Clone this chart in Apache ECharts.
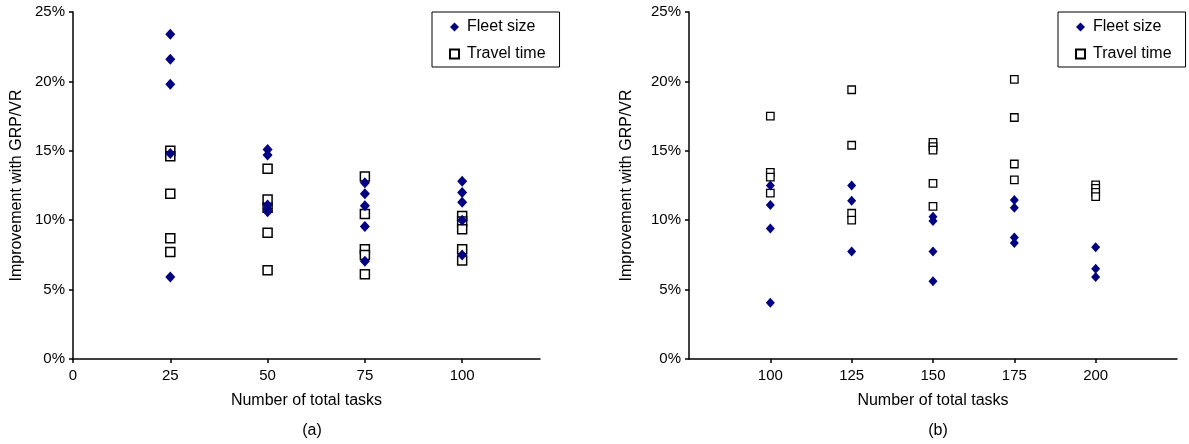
<!DOCTYPE html>
<html>
<head>
<meta charset="utf-8">
<script src="https://cdn.jsdelivr.net/npm/echarts@6/dist/echarts.min.js"></script>
<style>
  html, body { margin: 0; padding: 0; background: #fff; }
  #chart { width: 1189px; height: 444px; }
</style>
</head>
<body>
<div id="chart"></div>
<script>
// panel (a)
var tasksA = [25, 50, 75, 100];
var fleetA = [
    [23.4, 21.6, 19.8, 14.8, 5.9],
    [15.1, 14.7, 11.1, 10.8, 10.6],
    [12.7, 11.9, 11.05, 9.55, 7.05],
    [12.8, 12.0, 11.3, 10.0, 7.5]
];
var travelA = [
    [15.0, 14.6, 11.9, 8.7, 7.7],
    [13.7, 11.5, 10.9, 9.1, 6.4],
    [13.15, 10.45, 7.9, 7.5, 6.1],
    [10.3, 9.9, 9.35, 7.9, 7.1]
];

// panel (b)
var tasksB = [100, 125, 150, 175, 200];
var fleetB = [
    [12.5, 11.1, 9.4, 4.05],
    [12.5, 11.4, 7.75],
    [10.25, 9.95, 7.75, 5.6],
    [11.45, 10.9, 8.75, 8.35],
    [8.05, 6.5, 5.9]
];
var travelB = [
    [17.5, 13.45, 13.1, 11.95],
    [19.4, 15.4, 10.5, 10.0],
    [15.6, 15.3, 15.05, 12.65, 11.0],
    [20.15, 17.4, 14.05, 12.9],
    [12.55, 12.3, 12.0, 11.7]
];

function toPoints(xs, groups) {
    var pts = [];
    xs.forEach(function (x, i) {
        groups[i].forEach(function (v) { pts.push([x, v]); });
    });
    return pts;
}

var font = 'Liberation Sans, Arial, sans-serif';
var navy = '#000080';

function yAxisFor(idx, gap) {
    return {
        type: 'value', gridIndex: idx, min: 0, max: 25, interval: 5,
        name: 'Improvement with GRP/VR', nameLocation: 'middle', nameGap: gap,
        nameTextStyle: { fontFamily: font, fontSize: 16, color: '#000' },
        axisLine: { show: true, lineStyle: { color: '#000', width: 1.5 } },
        axisTick: { show: true, length: 4, lineStyle: { color: '#000', width: 1.5 } },
        axisLabel: { formatter: '{value}%', fontFamily: font, fontSize: 15, color: '#000', margin: 8 },
        splitLine: { show: false }
    };
}

function xAxisFor(idx, min, max) {
    return {
        type: 'value', gridIndex: idx, min: min, max: max, interval: 25,
        name: 'Number of total tasks', nameLocation: 'middle', nameGap: 34,
        nameTextStyle: { fontFamily: font, fontSize: 16, color: '#000' },
        axisLine: { show: true, onZero: false, lineStyle: { color: '#000', width: 1.5 } },
        axisTick: { show: true, length: 4, lineStyle: { color: '#000', width: 1.5 } },
        axisLabel: { fontFamily: font, fontSize: 15, color: '#000', margin: 9,
            showMinLabel: idx === 0, showMaxLabel: false },
        splitLine: { show: false }
    };
}

function legendAt(left) {
    return {
        left: left, top: 12, orient: 'vertical',
        backgroundColor: '#fff', borderColor: '#000', borderWidth: 1, borderRadius: 0,
        padding: [6, 14, 4, 17], itemGap: 9, itemWidth: 9, itemHeight: 9,
        textStyle: { fontFamily: font, fontSize: 16, color: '#000', lineHeight: 18, padding: [0, 0, 0, 3] },
        data: [{ name: 'Fleet size', icon: 'diamond' }, { name: 'Travel time', icon: 'rect' }]
    };
}

var fleetStyle = { color: navy, opacity: 1 };
var travelStyle = { color: '#fff', borderColor: '#000', borderWidth: 1.5, opacity: 1 };

var chart = echarts.init(document.getElementById('chart'));
chart.setOption({
    animation: false,
    backgroundColor: '#fff',
    title: [
        { text: '(a)', left: 307, top: 418, textAlign: 'center',
          textStyle: { fontFamily: font, fontSize: 16, fontWeight: 'normal', color: '#000' } },
        { text: '(b)', left: 933, top: 418, textAlign: 'center',
          textStyle: { fontFamily: font, fontSize: 16, fontWeight: 'normal', color: '#000' } }
    ],
    legend: [legendAt(432), legendAt(1058)],
    grid: [
        { left: 73, top: 12, width: 467, height: 347 },
        { left: 689, top: 12, width: 488, height: 347 }
    ],
    xAxis: [xAxisFor(0, 0, 120), xAxisFor(1, 75, 225)],
    yAxis: [yAxisFor(0, 48), yAxisFor(1, 54)],
    series: [
        { name: 'Fleet size', type: 'scatter', xAxisIndex: 0, yAxisIndex: 0, symbol: 'diamond',
          symbolSize: [10, 11], itemStyle: fleetStyle, data: toPoints(tasksA, fleetA), z: 3 },
        { name: 'Travel time', type: 'scatter', xAxisIndex: 0, yAxisIndex: 0, symbol: 'rect',
          symbolSize: 9, itemStyle: travelStyle, data: toPoints(tasksA, travelA), z: 2 },
        { name: 'Fleet size', type: 'scatter', xAxisIndex: 1, yAxisIndex: 1, symbol: 'diamond',
          symbolSize: [9, 10], itemStyle: fleetStyle, data: toPoints(tasksB, fleetB), z: 3 },
        { name: 'Travel time', type: 'scatter', xAxisIndex: 1, yAxisIndex: 1, symbol: 'rect',
          symbolSize: 7.5, itemStyle: { color: '#fff', borderColor: '#000', borderWidth: 1.3, opacity: 1 },
          data: toPoints(tasksB, travelB), z: 2 }
    ]
});
</script>
</body>
</html>
